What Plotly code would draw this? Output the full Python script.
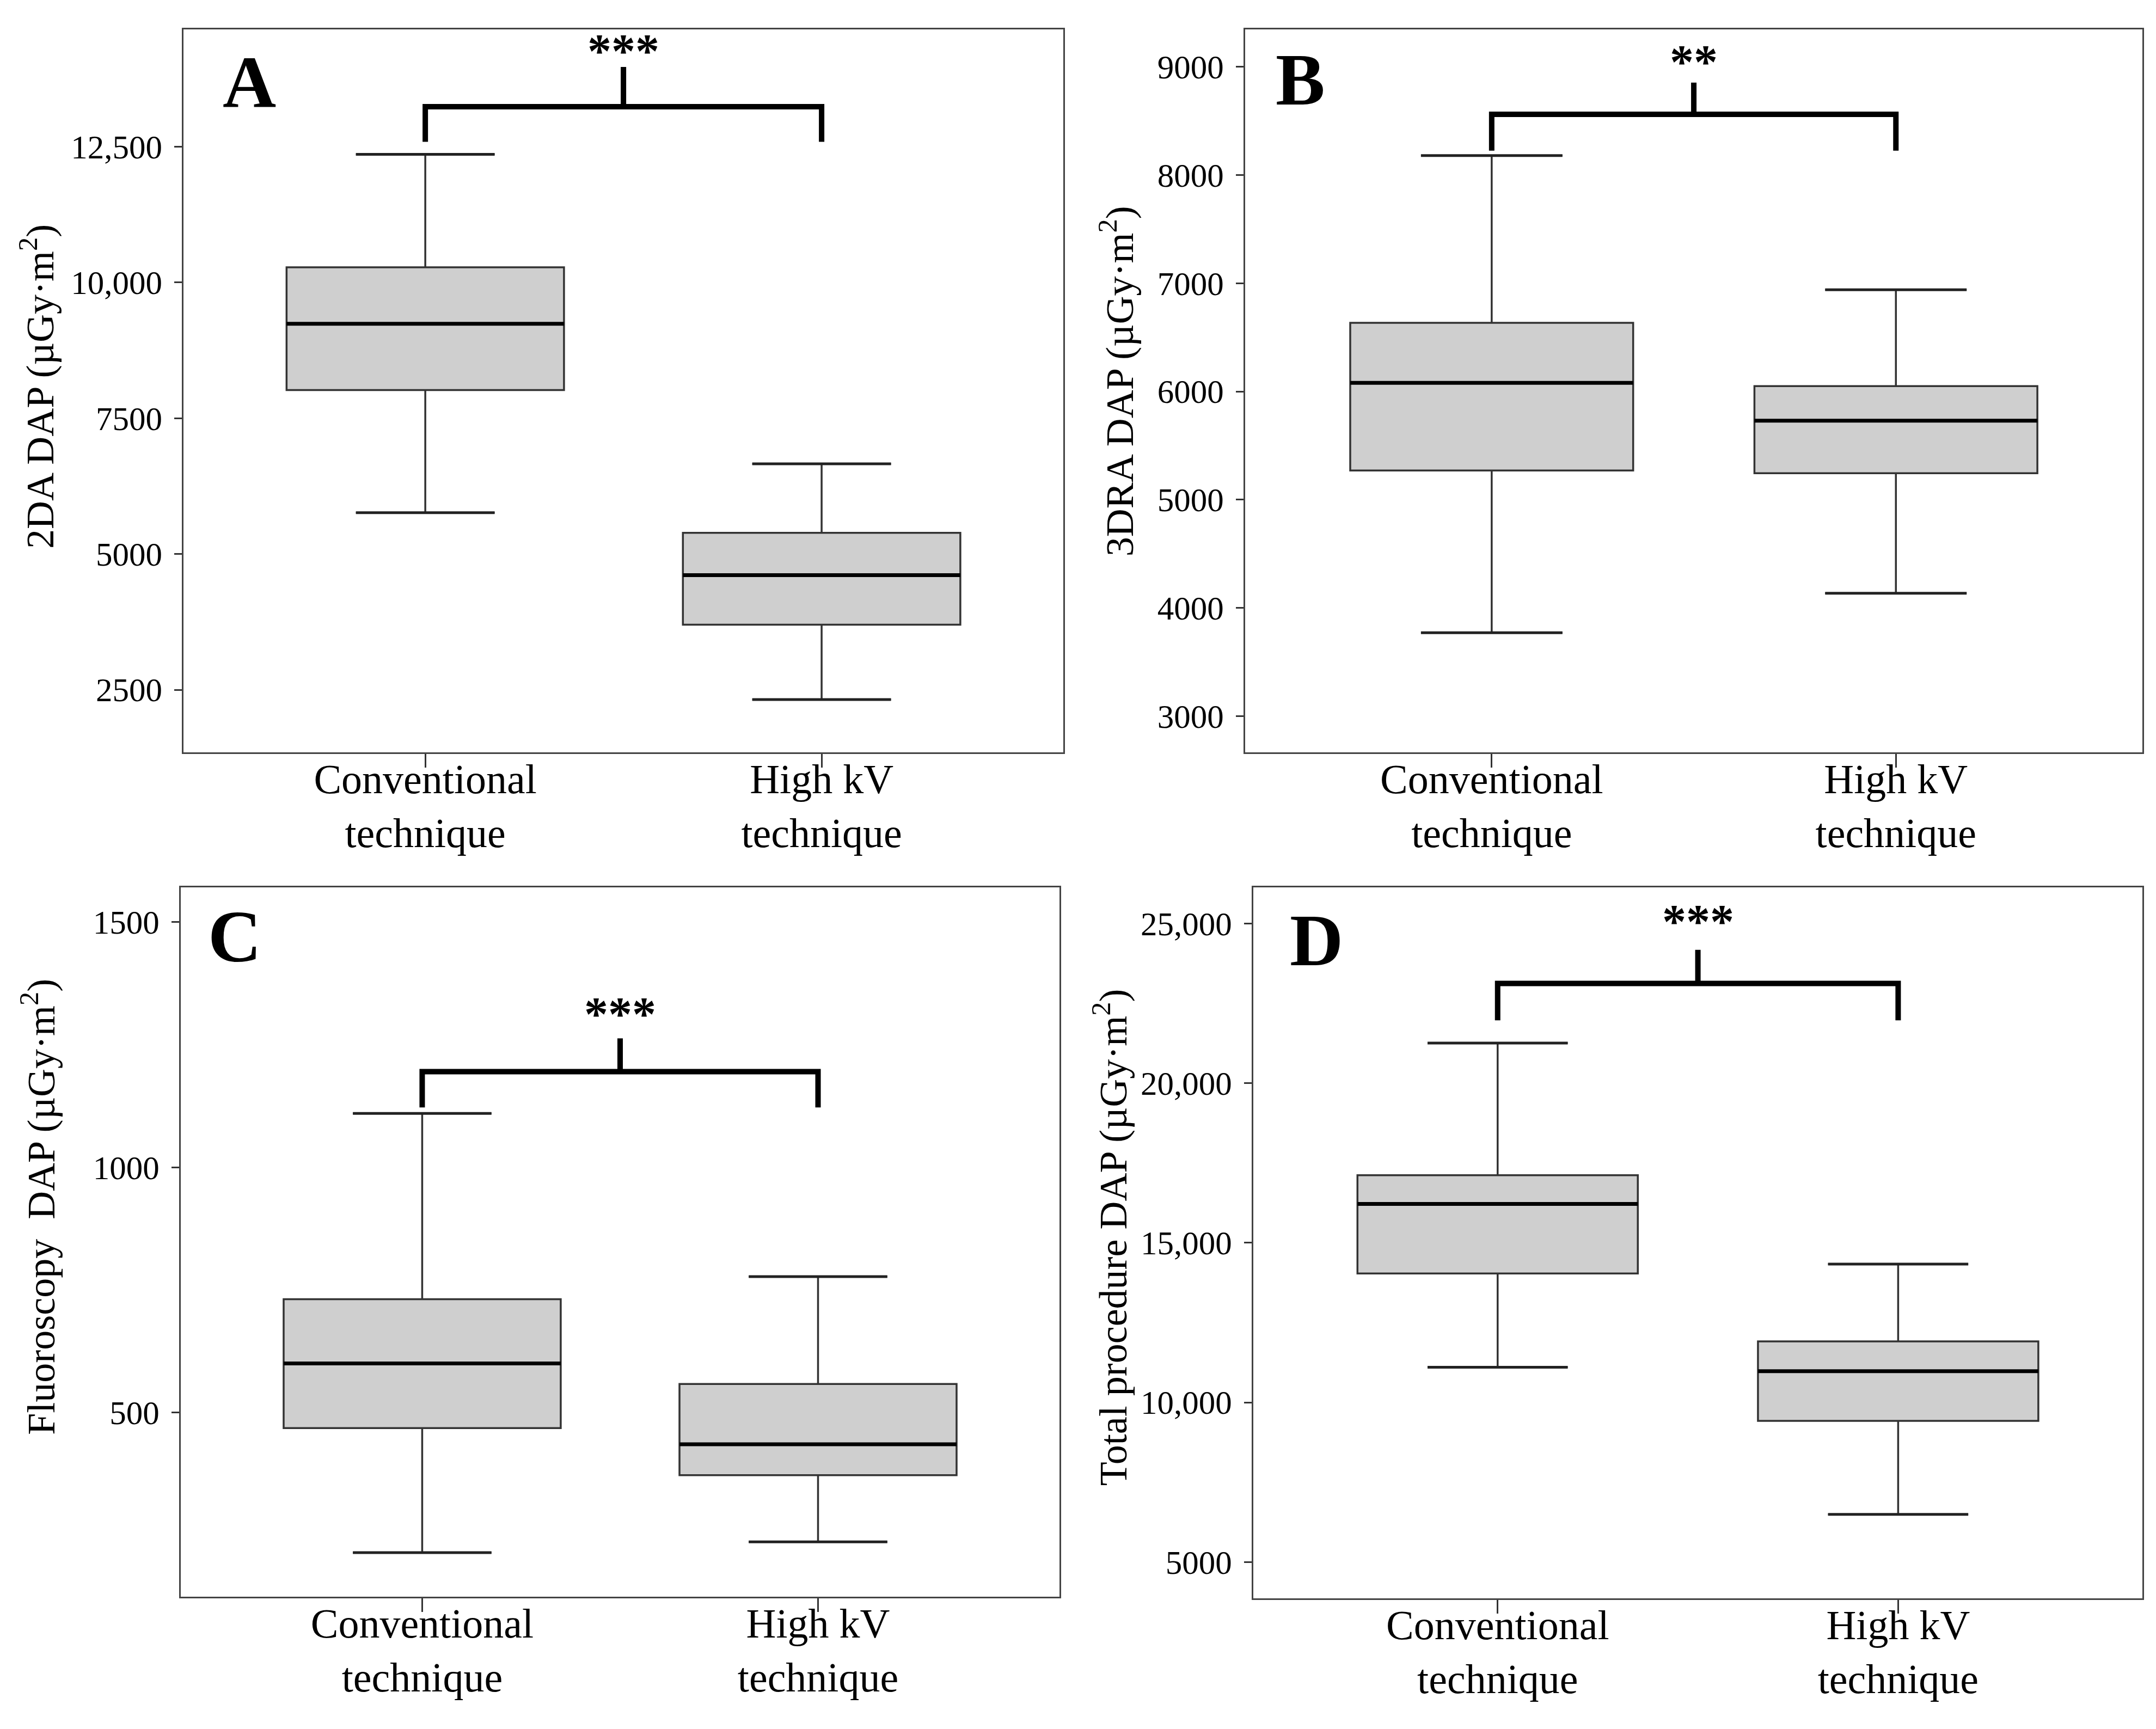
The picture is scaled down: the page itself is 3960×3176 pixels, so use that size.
##########################################################
# Box plots of DAP for conventional vs high kV technique #
##########################################################

import plotly.graph_objects as go

# categories on the x axis
categories = ["Conventional<br>technique", "High kV<br>technique"]

# box statistics per panel: [conventional, high kV]
lower_2da = [5760, 2320]
q1_2da = [8020, 3700]
median_2da = [9240, 4610]
q3_2da = [10280, 5390]
upper_2da = [12360, 6660]

lower_3dra = [3770, 4135]
q1_3dra = [5270, 5245]
median_3dra = [6080, 5730]
q3_3dra = [6635, 6050]
upper_3dra = [8180, 6940]

lower_fluoro = [214, 236]
q1_fluoro = [468, 372]
median_fluoro = [600, 435]
q3_fluoro = [731, 558]
upper_fluoro = [1110, 777]

lower_total = [11100, 6490]
q1_total = [14040, 9420]
median_total = [16220, 10980]
q3_total = [17120, 11910]
upper_total = [21260, 14335]

# y ticks
ticks_2da = [2500, 5000, 7500, 10000, 12500]
ticklabels_2da = ["2500", "5000", "7500", "10,000", "12,500"]
ticks_3dra = [3000, 4000, 5000, 6000, 7000, 8000, 9000]
ticklabels_3dra = ["3000", "4000", "5000", "6000", "7000", "8000", "9000"]
ticks_fluoro = [500, 1000, 1500]
ticklabels_fluoro = ["500", "1000", "1500"]
ticks_total = [5000, 10000, 15000, 20000, 25000]
ticklabels_total = ["5000", "10,000", "15,000", "20,000", "25,000"]

# significance labels
stars = ["***", "**", "***", "***"]
letters = ["A", "B", "C", "D"]
ytitles = ["2DA DAP (µGy·m<sup>2</sup>)",
           "3DRA DAP (µGy·m<sup>2</sup>)",
           "Fluoroscopy&nbsp; DAP (µGy·m<sup>2</sup>)",
           "Total procedure DAP (µGy·m<sup>2</sup>)"]

FONT = "Liberation Serif"
BOX_W = 0.7
CAP_W = 0.35

panels = [
    dict(lower=lower_2da, q1=q1_2da, med=median_2da, q3=q3_2da, upper=upper_2da,
         ticks=ticks_2da, labels=ticklabels_2da, yrange=[1349, 14659],
         xdom=[0.0831, 0.4912], ydom=[0.5674, 0.9855],
         bracket=[12590, 13236, 13968], star_y=14280,
         title_pos=(0.0154, 0.779), letter_pos=(0.043, 0.927)),
    dict(lower=lower_3dra, q1=q1_3dra, med=median_3dra, q3=q3_3dra, upper=upper_3dra,
         ticks=ticks_3dra, labels=ticklabels_3dra, yrange=[2665, 9346],
         xdom=[0.5755, 0.9917], ydom=[0.5674, 0.9855],
         bracket=[8226, 8561, 8855], star_y=9057,
         title_pos=(0.5159, 0.782), letter_pos=(0.033, 0.931)),
    dict(lower=lower_fluoro, q1=q1_fluoro, med=median_fluoro, q3=q3_fluoro, upper=upper_fluoro,
         ticks=ticks_fluoro, labels=ticklabels_fluoro, yrange=[124, 1571],
         xdom=[0.0818, 0.4894], ydom=[0.0790, 0.4893],
         bracket=[1122, 1195, 1263], star_y=1315,
         title_pos=(0.0159, 0.3045), letter_pos=(0.030, 0.931)),
    dict(lower=lower_total, q1=q1_total, med=median_total, q3=q3_total, upper=upper_total,
         ticks=ticks_total, labels=ticklabels_total, yrange=[3862, 26137],
         xdom=[0.5793, 0.9917], ydom=[0.0781, 0.4893],
         bracket=[21972, 23127, 24178], star_y=25100,
         title_pos=(0.5129, 0.2868), letter_pos=(0.040, 0.926)),
]

fig = go.Figure()
shapes = []
annotations = []

for k, p in enumerate(panels):
    sfx = "" if k == 0 else str(k + 1)
    xref, yref = "x" + sfx, "y" + sfx

    # boxes
    for i in range(len(categories)):
        fig.add_trace(go.Box(
            x=[i], q1=[p["q1"][i]], median=[p["med"][i]], q3=[p["q3"][i]],
            lowerfence=[p["lower"][i]], upperfence=[p["upper"][i]],
            width=BOX_W, whiskerwidth=0.5,
            fillcolor="#cfcfcf", line=dict(color="#333333", width=3.5),
            xaxis=xref, yaxis=yref, showlegend=False, hoverinfo="skip"))
        # thicker median line
        shapes.append(dict(type="line", xref=xref, yref=yref,
                           x0=i - BOX_W / 2, x1=i + BOX_W / 2,
                           y0=p["med"][i], y1=p["med"][i],
                           line=dict(color="black", width=7)))
        # slightly heavier whisker caps
        for fence in (p["lower"][i], p["upper"][i]):
            shapes.append(dict(type="line", xref=xref, yref=yref,
                               x0=i - CAP_W / 2, x1=i + CAP_W / 2,
                               y0=fence, y1=fence,
                               line=dict(color="#222222", width=5)))

    # significance bracket
    leg, bar, top = p["bracket"]
    fig.add_trace(go.Scatter(x=[0, 0, 1, 1], y=[leg, bar, bar, leg], mode="lines",
                             line=dict(color="black", width=10),
                             xaxis=xref, yaxis=yref, showlegend=False, hoverinfo="skip"))
    fig.add_trace(go.Scatter(x=[0.5, 0.5], y=[bar, top], mode="lines",
                             line=dict(color="black", width=10),
                             xaxis=xref, yaxis=yref, showlegend=False, hoverinfo="skip"))
    annotations.append(dict(x=0.5, y=p["star_y"], xref=xref, yref=yref,
                            text="<b>" + stars[k] + "</b>",
                            showarrow=False, yanchor="middle", yshift=-2,
                            font=dict(family=FONT, size=88, color="black")))

    # panel letter
    annotations.append(dict(x=p["letter_pos"][0], y=p["letter_pos"][1],
                            xref=xref + " domain", yref=yref + " domain",
                            text="<b>" + letters[k] + "</b>", showarrow=False,
                            xanchor="left", yanchor="middle",
                            font=dict(family=FONT, size=136, color="black")))

    # y axis title
    annotations.append(dict(x=p["title_pos"][0], y=p["title_pos"][1],
                            xref="paper", yref="paper", text=ytitles[k],
                            showarrow=False, textangle=-90,
                            xanchor="center", yanchor="middle",
                            font=dict(family=FONT, size=72, color="black")))

    axis_line = dict(showline=True, linecolor="#444444", linewidth=3, mirror=True,
                     showgrid=False, zeroline=False, ticks="outside",
                     tickcolor="#333333", tickwidth=3)
    fig.update_layout(**{
        "xaxis" + sfx: dict(domain=p["xdom"], anchor=yref, range=[-0.61, 1.61],
                            tickvals=[0, 1], ticktext=categories, ticklen=25,
                            ticklabelstandoff=-44,
                            tickfont=dict(family=FONT, size=76, color="black"),
                            **axis_line),
        "yaxis" + sfx: dict(domain=p["ydom"], anchor=xref, range=p["yrange"],
                            tickvals=p["ticks"], ticktext=p["labels"], ticklen=14,
                            ticklabelstandoff=10,
                            tickfont=dict(family=FONT, size=61, color="black"),
                            **axis_line),
    })

fig.update_layout(width=3960, height=3176, margin=dict(l=0, r=0, t=0, b=0),
                  paper_bgcolor="white", plot_bgcolor="white",
                  shapes=shapes, annotations=annotations, showlegend=False)

fig.write_html("out.html")
